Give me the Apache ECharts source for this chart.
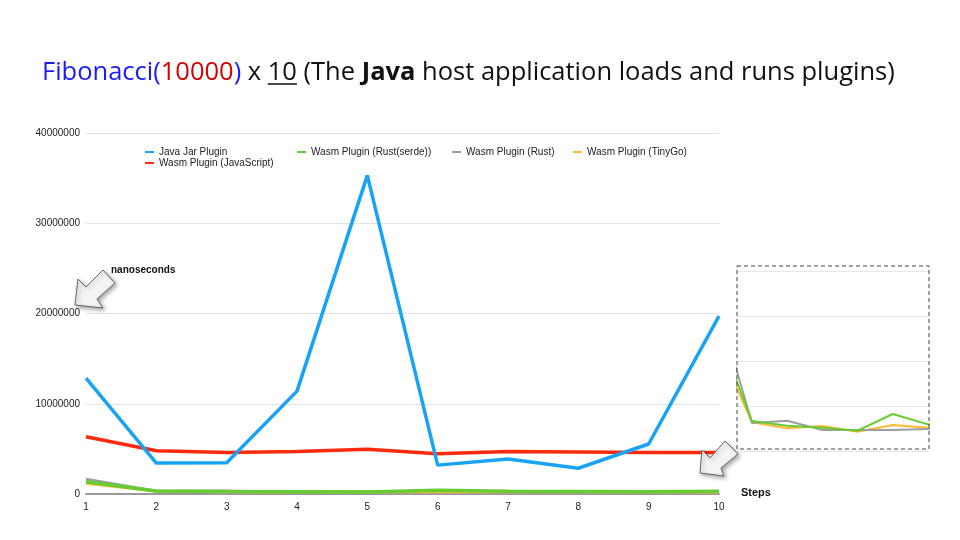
<!DOCTYPE html>
<html>
<head>
<meta charset="utf-8">
<script src="https://cdn.jsdelivr.net/npm/echarts@6/dist/echarts.min.js"></script>
<style>
  html, body { margin: 0; padding: 0; background: #fff; }
  #chart { width: 960px; height: 540px; }
</style>
</head>
<body>
<div id="chart"></div>
<script>
// steps on the x axis
var steps = ['1', '2', '3', '4', '5', '6', '7', '8', '9', '10'];
// nanoseconds per step
var javaJar = [12850000, 3430000, 3470000, 11400000, 35300000, 3200000, 3880000, 2850000, 5540000, 19700000];
var wasmJs = [6350000, 4800000, 4600000, 4700000, 4950000, 4470000, 4700000, 4650000, 4600000, 4600000];
var wasmRustSerde = [1350000, 333000, 281000, 259000, 226000, 411000, 296000, 280000, 260000, 300000];
var wasmRust = [1650000, 311000, 337000, 233000, 233000, 233000, 244000, 230000, 240000, 220000];
var wasmTinyGo = [1200000, 318000, 252000, 278000, 215000, 289000, 259000, 250000, 240000, 230000];
var yTicks = [0, 10000000, 20000000, 30000000, 40000000];

var COLORS = {
  java: '#18a3f4',
  js: '#ff2a0c',
  serde: '#66cc33',
  rust: '#9e9e9e',
  tinygo: '#ffb830'
};

// inset uses numeric x so it can show a cropped range
function pairs(arr) {
  return arr.map(function (v, i) { return [i + 1, v]; });
}

var myChart = echarts.init(document.getElementById('chart'), null, { renderer: 'canvas' });

var legendFont = { fontFamily: 'Liberation Sans', fontSize: 10, color: '#222' };
function legendAt(name, left, top) {
  return {
    data: [name], left: left, top: top, itemWidth: 9, itemHeight: 2,
    icon: 'rect', itemGap: 0, padding: 0, textStyle: legendFont, selectedMode: false
  };
}

var TITLE_X = 42;
var TITLE_SIZE = 25.5;
var titleFont = { fontSize: TITLE_SIZE, fontFamily: 'Open Sans', fontWeight: 'normal' };
function tf(extra) { return Object.assign({}, titleFont, extra); }

var option = {
  backgroundColor: '#fff',
  animation: false,
  title: {
    left: TITLE_X, top: 60, padding: 0,
    text: '{b|Fibonacci(}{r|10000}{b|)}{k| x 10 (The }{bo|Java}{k| host application loads and runs plugins)}',
    textStyle: {
      fontWeight: 'normal',
      rich: {
        b: tf({ color: '#1a1aff' }),
        r: tf({ color: '#d40000' }),
        k: tf({ color: '#111' }),
        bo: tf({ color: '#111', fontWeight: 'bold' })
      }
    }
  },
  legend: [
    legendAt('Java Jar Plugin', 145, 147),
    legendAt('Wasm Plugin (Rust(serde))', 297, 147),
    legendAt('Wasm Plugin (Rust)', 452, 147),
    legendAt('Wasm Plugin (TinyGo)', 573, 147),
    legendAt('Wasm Plugin (JavaScript)', 145, 158)
  ],
  grid: [
    { left: 86, right: 241, top: 133, bottom: 46 },
    { left: 737, top: 271, width: 192, height: 180, show: true, backgroundColor: '#fff', borderWidth: 0 }
  ],
  xAxis: [
    {
      gridIndex: 0, type: 'category', data: steps, boundaryGap: false,
      axisLine: { lineStyle: { color: '#999', width: 2 } },
      axisTick: { show: false },
      axisLabel: { color: '#222', fontFamily: 'Liberation Sans', fontSize: 10, margin: 8 }
    },
    {
      gridIndex: 1, type: 'value', min: 1.574, max: 7.03, show: false
    }
  ],
  yAxis: [
    {
      gridIndex: 0, type: 'value', min: yTicks[0], max: yTicks[yTicks.length - 1], interval: 10000000,
      axisLine: { show: false }, axisTick: { show: false },
      splitLine: { lineStyle: { color: '#e2e2e2' } },
      axisLabel: {
        color: '#222', fontFamily: 'Liberation Sans', fontSize: 10, margin: 6,
        formatter: function (v) { return String(v); }
      }
    },
    {
      gridIndex: 1, type: 'value', min: 0, max: 2000000, interval: 500000,
      axisLine: { show: false }, axisTick: { show: false }, axisLabel: { show: false },
      splitLine: { lineStyle: { color: '#e8e8e8' } }
    }
  ],
  series: [
    { name: 'Wasm Plugin (Rust)', type: 'line', data: wasmRust, symbol: 'none', color: COLORS.rust, lineStyle: { width: 3 } },
    { name: 'Wasm Plugin (TinyGo)', type: 'line', data: wasmTinyGo, symbol: 'none', color: COLORS.tinygo, lineStyle: { width: 3 } },
    { name: 'Wasm Plugin (Rust(serde))', type: 'line', data: wasmRustSerde, symbol: 'none', color: COLORS.serde, lineStyle: { width: 3.5 } },
    { name: 'Wasm Plugin (JavaScript)', type: 'line', data: wasmJs, symbol: 'none', color: COLORS.js, lineStyle: { width: 3.5 } },
    { name: 'Java Jar Plugin', type: 'line', data: javaJar, symbol: 'none', color: COLORS.java, lineStyle: { width: 3.5 } },
    // zoomed inset of the small series
    { name: 'Wasm Plugin (TinyGo)', type: 'line', xAxisIndex: 1, yAxisIndex: 1, data: pairs(wasmTinyGo), symbol: 'none', color: COLORS.tinygo, lineStyle: { width: 2 } },
    { name: 'Wasm Plugin (Rust)', type: 'line', xAxisIndex: 1, yAxisIndex: 1, data: pairs(wasmRust), symbol: 'none', color: COLORS.rust, lineStyle: { width: 2 } },
    { name: 'Wasm Plugin (Rust(serde))', type: 'line', xAxisIndex: 1, yAxisIndex: 1, data: pairs(wasmRustSerde), symbol: 'none', color: COLORS.serde, lineStyle: { width: 2 } }
  ],
  graphic: [
    // inset border
    { type: 'rect', shape: { x: 737, y: 266, width: 192, height: 183 }, style: { fill: null, stroke: '#444', lineWidth: 1, lineDash: [4, 3] }, z: 100 },
    { type: 'text', left: 111, top: 265, style: { text: 'nanoseconds', font: 'bold 10px "Liberation Sans"', fill: '#111' } },
    { type: 'text', left: 741, top: 487, style: { text: 'Steps', font: 'bold 11px "Liberation Sans"', fill: '#111' } },
    // callout arrows
    {
      type: 'polygon', z: 100,
      shape: { points: [[75, 305], [78, 279], [86, 287], [103, 270], [115, 283], [97, 299], [103, 308]] },
      style: { fill: '#f4f4f4', stroke: '#666', lineWidth: 1, shadowBlur: 4, shadowColor: 'rgba(0,0,0,0.35)', shadowOffsetX: 2, shadowOffsetY: 2 }
    },
    {
      type: 'polygon', z: 100,
      shape: { points: [[700, 473], [702, 450], [710, 458], [725, 441], [738, 454], [721, 468], [724, 476]] },
      style: { fill: '#f4f4f4', stroke: '#666', lineWidth: 1, shadowBlur: 4, shadowColor: 'rgba(0,0,0,0.35)', shadowOffsetX: 2, shadowOffsetY: 2 }
    }
  ]
};

myChart.setOption(option);

// underline under "10" in the title, placed from measured text widths
var ctx = document.createElement('canvas').getContext('2d');
ctx.font = TITLE_SIZE + 'px "Open Sans"';
var before = ctx.measureText('Fibonacci(10000) x ').width;
var tenW = ctx.measureText('10').width;
myChart.setOption({
  graphic: option.graphic.concat([
    { type: 'line', shape: { x1: TITLE_X + before, y1: 84, x2: TITLE_X + before + tenW, y2: 84 }, style: { stroke: '#111', lineWidth: 1.5 }, z: 100 }
  ])
}, { replaceMerge: ['graphic'] });
</script>
</body>
</html>
